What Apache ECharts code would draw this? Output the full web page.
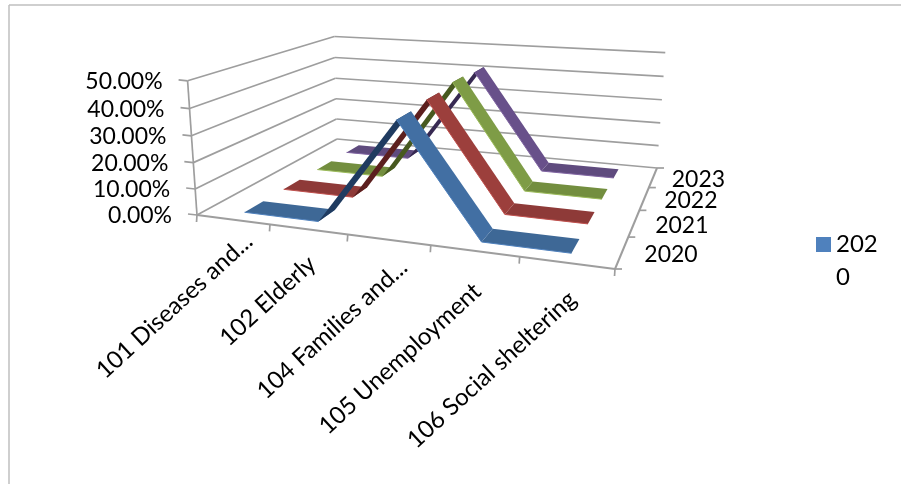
<!DOCTYPE html>
<html>
<head>
<meta charset="utf-8">
<style>html,body{margin:0;padding:0;background:#fff}#chart{width:901px;height:484px}</style>
<script src="https://cdn.jsdelivr.net/npm/echarts@6/dist/echarts.min.js"></script>
</head>
<body>
<div id="chart"></div>
<script>
const categories = ['101 Diseases and...', '102 Elderly', '104 Families and...', '105 Unemployment', '106 Social sheltering'];
const years = ['2020', '2021', '2022', '2023'];
const values2020 = [0.002, 0.002, 0.40, 0.002, 0.002];
const values2021 = [0.002, 0.002, 0.41, 0.002, 0.002];
const values2022 = [0.002, 0.002, 0.42, 0.002, 0.002];
const values2023 = [0.002, 0.002, 0.41, 0.002, 0.002];
const valueTicks = [0, 0.1, 0.2, 0.3, 0.4, 0.5];

const seriesValues = [values2020, values2021, values2022, values2023];
const baseColors = ['#4F81BD', '#C0504D', '#9BBB59', '#8064A2'];
const flatColors = ['#3E6896', '#8E3A38', '#738E3F', '#5F4B7E'];
const fallColors = ['#426FA3', '#9C3F3C', '#7E9C46', '#68508A'];
const riseColors = ['#1F3B60', '#5C1F1E', '#47591F', '#372952'];

const FONT = 'Lato';
const FONT_SIZE = 23;
const RIBBON = 0.23;   // half width of a ribbon, as a share of one depth cell
const NAME_ANGLE = 42.5 * Math.PI / 180;
// Where each slanted category name ends, relative to the centre of its band on the front edge.
const nameOffsets = [[16, 18], [4, 31], [15, 24], [3, 37], [6, 33]];

// Corners of the plot box on the page: [u, v, t] along category, depth, value.
const floorCorners = [[0, 0, 197, 215], [1, 0, 615, 269], [1, 1, 657, 168], [0, 1, 337, 139]];
const topCorners = [[0, 0, 187, 81], [0, 1, 335, 36], [1, 1, 665, 53]];

function solve(A, b) {
  const n = b.length, M = A.map((r, i) => r.concat(b[i]));
  for (let c = 0; c < n; c++) {
    let p = c;
    for (let r = c + 1; r < n; r++) if (Math.abs(M[r][c]) > Math.abs(M[p][c])) p = r;
    [M[c], M[p]] = [M[p], M[c]];
    for (let r = 0; r < n; r++) {
      if (r === c) continue;
      const f = M[r][c] / M[c][c];
      for (let k = c; k <= n; k++) M[r][k] -= f * M[c][k];
    }
  }
  return M.map((r, i) => r[n] / r[i]);
}

// Perspective camera: floor homography, then the vertical column by least squares.
function buildCamera() {
  const A = [], b = [];
  floorCorners.forEach(([u, v, x, y]) => {
    A.push([u, v, 1, 0, 0, 0, -x * u, -x * v]); b.push(x);
    A.push([0, 0, 0, u, v, 1, -y * u, -y * v]); b.push(y);
  });
  const [a0, a1, a3, b0, b1, b3, c0, c1] = solve(A, b);
  const R = [], s = [];
  topCorners.forEach(([u, v, x, y]) => {
    const w = c0 * u + c1 * v + 1;
    R.push([1, 0, -x]); s.push(x * w - (a0 * u + a1 * v + a3));
    R.push([0, 1, -y]); s.push(y * w - (b0 * u + b1 * v + b3));
  });
  const N = [0, 1, 2].map(i => [0, 1, 2].map(j => R.reduce((m, r) => m + r[i] * r[j], 0)));
  const d = [0, 1, 2].map(i => R.reduce((m, r, k) => m + r[i] * s[k], 0));
  const [a2, b2, c2] = solve(N, d);
  return (u, v, t) => {
    const w = c0 * u + c1 * v + c2 * t + 1;
    return [(a0 * u + a1 * v + a2 * t + a3) / w, (b0 * u + b1 * v + b2 * t + b3) / w];
  };
}
const project = buildCamera();

// The hidden cartesian grid supplies the category and value scales.
const GRID = { left: 0, top: 0, width: 100, height: 100 };
const toU = px => (px - GRID.left) / GRID.width;
const toT = py => (GRID.top + GRID.height - py) / GRID.height;
const cellMid = i => (i + 0.5) / years.length;

function line(a, b, width) {
  return {
    type: 'line',
    shape: { x1: a[0], y1: a[1], x2: b[0], y2: b[1] },
    style: { stroke: '#9E9E9E', lineWidth: width || 1.7 }
  };
}
function label(text, x, y, align, rotation, size) {
  return {
    type: 'text', x, y, rotation: rotation || 0,
    style: { text, fontFamily: FONT, fontSize: size || FONT_SIZE, fill: '#000', align, verticalAlign: 'middle' }
  };
}

function renderFrame(params, api) {
  const kids = [];
  // Walls and floor
  valueTicks.forEach(tick => {
    const t = toT(api.coord([0, tick])[1]);
    const front = project(0, 0, t), back = project(0, 1, t), right = project(1, 1, t);
    kids.push(line(front, back), line(back, right));
    kids.push(line([front[0] - 9, front[1] - 1], front));
    kids.push(label((tick * 100).toFixed(2) + '%', front[0] - 25, front[1] + 1, 'right'));
  });
  kids.push(line(project(0, 0, 0), project(0, 0, 1)));
  kids.push(line(project(0, 0, 0), project(1, 0, 0), 2));
  kids.push(line(project(1, 0, 0), project(1, 1, 0), 2));
  // Category ticks and slanted names
  for (let i = 0; i <= categories.length; i++) {
    const p = project(i / categories.length, 0, 0);
    kids.push(line(p, [p[0] - 0.5, p[1] + 7]));
  }
  categories.forEach((name, i) => {
    const p = project(toU(api.coord([i, 0])[0]), 0, 0);
    kids.push(label(name, p[0] + nameOffsets[i][0], p[1] + nameOffsets[i][1], 'right', NAME_ANGLE, 24));
  });
  // Depth ticks and year names
  for (let i = 0; i <= years.length; i++) {
    const p = project(1, i / years.length, 0);
    kids.push(line(p, [p[0] + 7, p[1]]));
  }
  years.forEach((year, i) => {
    const p = project(1, cellMid(i), 0);
    kids.push(label(year, p[0] + 23 - 5 * cellMid(i), p[1] + 2, 'left'));
  });
  return { type: 'group', children: kids };
}

function ribbonRenderer(seriesIdx) {
  return function (params, api) {
    if (params.dataIndexInside !== 0) return null;
    const cell = 1 / years.length;
    const vFront = cellMid(seriesIdx) - RIBBON * cell;
    const vBack = cellMid(seriesIdx) + RIBBON * cell;
    const kids = [];
    for (let i = 0; i < params.dataInsideLength - 1; i++) {
      const p0 = api.coord([api.value(0, i), api.value(1, i)]);
      const p1 = api.coord([api.value(0, i + 1), api.value(1, i + 1)]);
      const u0 = toU(p0[0]), t0 = toT(p0[1]), u1 = toU(p1[0]), t1 = toT(p1[1]);
      const rising = t1 > t0 + 0.01, falling = t1 < t0 - 0.01;
      const fill = rising ? riseColors[seriesIdx] : falling ? fallColors[seriesIdx] : flatColors[seriesIdx];
      const a = project(u0, vFront, t0), b = project(u1, vFront, t1);
      kids.push({
        type: 'polygon',
        z2: falling ? 2 : 1,
        shape: { points: [a, b, project(u1, vBack, t1), project(u0, vBack, t0)] },
        style: { fill }
      });
      // Thin highlight along the near edge of each strip
      if (!rising) {
        kids.push({
          type: 'line',
          z2: falling ? 3 : 2,
          shape: { x1: a[0], y1: a[1], x2: b[0], y2: b[1] },
          style: { stroke: baseColors[seriesIdx], lineWidth: 1 }
        });
      }
    }
    return { type: 'group', children: kids };
  };
}

const ribbonSeries = years.map((year, s) => ({
  name: year,
  type: 'custom',
  coordinateSystem: 'cartesian2d',
  clip: false,
  itemStyle: { color: baseColors[s] },
  encode: { x: 0, y: 1 },
  data: seriesValues[s].map((v, i) => [i, v]),
  z: 10 + years.length - s,
  renderItem: ribbonRenderer(s)
}));

const chart = echarts.init(document.getElementById('chart'), null, { renderer: 'canvas' });
chart.setOption({
  animation: false,
  backgroundColor: '#fff',
  grid: GRID,
  xAxis: { type: 'category', data: categories, show: false },
  yAxis: { type: 'value', min: 0, max: 0.5, interval: 0.1, show: false },
  legend: {
    data: ['2020'],
    left: 816,
    top: 195,
    padding: 0,
    itemWidth: 15,
    itemHeight: 15,
    itemGap: 0,
    icon: 'rect',
    // A leading blank line keeps the swatch level with the first row of the wrapped name.
    formatter: () => '\n202\n0',
    textStyle: { fontFamily: FONT, fontSize: 24, lineHeight: 33, color: '#000' }
  },
  graphic: [
    { type: 'line', shape: { x1: 9, y1: 5, x2: 9, y2: 484 }, style: { stroke: '#BFBFBF', lineWidth: 1.5 } },
    { type: 'line', shape: { x1: 9, y1: 5, x2: 901, y2: 5 }, style: { stroke: '#BFBFBF', lineWidth: 1.5 } }
  ],
  series: [{
    name: 'frame',
    type: 'custom',
    coordinateSystem: 'cartesian2d',
    clip: false,
    z: 1,
    data: [[0, 0]],
    renderItem: renderFrame
  }].concat(ribbonSeries)
});
</script>
</body>
</html>
